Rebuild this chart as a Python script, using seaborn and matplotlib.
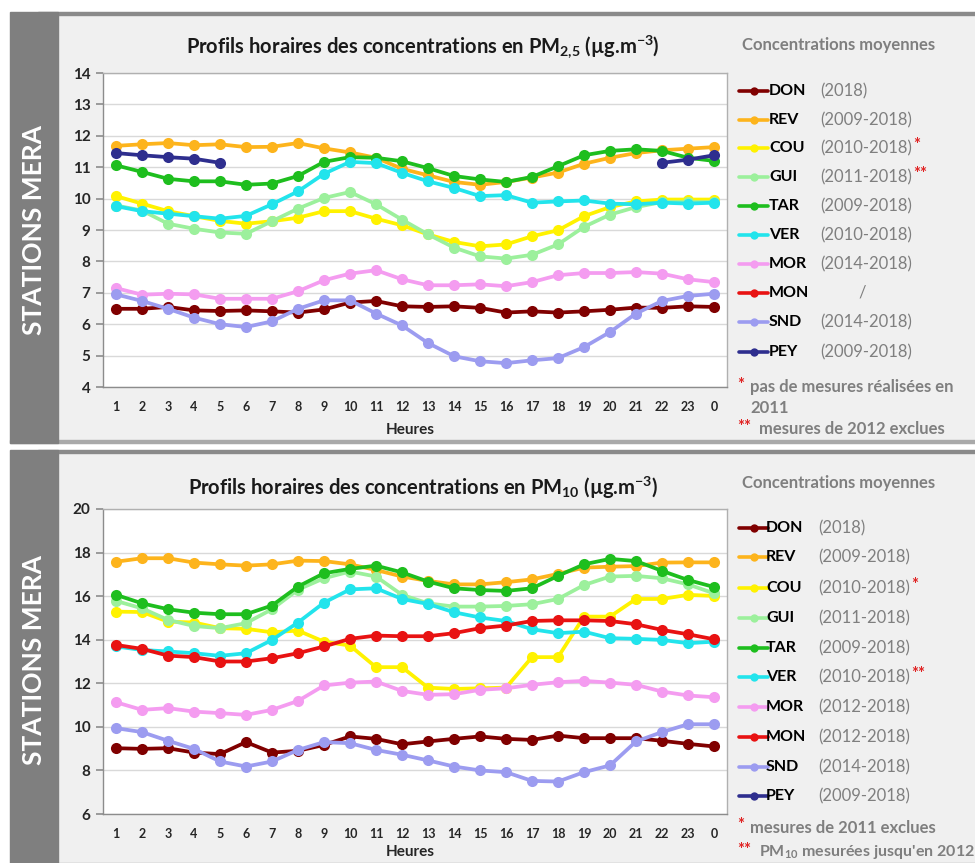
import numpy as np
import pandas as pd
import matplotlib
matplotlib.use("Agg")
import matplotlib.pyplot as plt
from matplotlib.patches import Rectangle
from matplotlib.lines import Line2D
import seaborn as sns

# ---- data -----------------------------------------------------------
hours = [str(h) for h in list(range(1, 24)) + [0]]
stations = ["DON", "REV", "COU", "GUI", "TAR", "VER", "MOR", "MON", "SND", "PEY"]
colors = {"DON": "#800000", "REV": "#FDB41C", "COU": "#FFF200", "GUI": "#9CF09C",
          "TAR": "#1EBE1E", "VER": "#22E4EC", "MOR": "#F49CF0", "MON": "#E81212",
          "SND": "#9C9CF0", "PEY": "#2E2E8E"}
nan = np.nan

# PM2.5 (ug/m3)
pm25_don = [6.49, 6.49, 6.55, 6.44, 6.42, 6.44, 6.41, 6.37, 6.47, 6.69, 6.74, 6.57,
            6.55, 6.57, 6.52, 6.37, 6.41, 6.37, 6.41, 6.46, 6.53, 6.52, 6.57, 6.55]
pm25_rev = [11.68, 11.73, 11.77, 11.70, 11.73, 11.64, 11.65, 11.77, 11.60, 11.47, 11.30, 10.95,
            10.74, 10.53, 10.44, 10.53, 10.67, 10.83, 11.11, 11.30, 11.45, 11.54, 11.59, 11.64]
pm25_cou = [10.08, 9.84, 9.60, 9.44, 9.29, 9.20, 9.28, 9.39, 9.60, 9.60, 9.36, 9.15,
            8.86, 8.62, 8.48, 8.54, 8.80, 8.99, 9.44, 9.73, 9.91, 9.97, 9.97, 9.97]
pm25_gui = [9.78, 9.62, 9.20, 9.04, 8.92, 8.88, 9.28, 9.68, 10.02, 10.21, 9.82, 9.33,
            8.86, 8.44, 8.16, 8.09, 8.21, 8.54, 9.10, 9.49, 9.73, 9.89, 9.89, 9.89]
pm25_tar = [11.06, 10.85, 10.63, 10.55, 10.55, 10.44, 10.48, 10.72, 11.17, 11.32, 11.30, 11.19,
            10.97, 10.72, 10.61, 10.53, 10.69, 11.03, 11.38, 11.52, 11.57, 11.52, 11.30, 11.20]
pm25_ver = [9.76, 9.60, 9.52, 9.44, 9.36, 9.45, 9.82, 10.23, 10.79, 11.17, 11.13, 10.82,
            10.55, 10.34, 10.08, 10.11, 9.87, 9.91, 9.94, 9.84, 9.82, 9.87, 9.84, 9.87]
pm25_mor = [7.15, 6.94, 6.97, 6.95, 6.81, 6.81, 6.81, 7.05, 7.40, 7.61, 7.72, 7.43,
            7.24, 7.24, 7.27, 7.21, 7.34, 7.56, 7.63, 7.63, 7.66, 7.61, 7.43, 7.34]
pm25_mon = [nan] * 24
pm25_snd = [6.95, 6.74, 6.49, 6.21, 6.00, 5.91, 6.09, 6.49, 6.76, 6.76, 6.34, 5.96,
            5.40, 4.98, 4.82, 4.76, 4.85, 4.92, 5.27, 5.75, 6.34, 6.74, 6.90, 6.97]
pm25_pey = [11.45, 11.38, 11.32, 11.27, 11.14, nan, nan, nan, nan, nan, nan, nan,
            nan, nan, nan, nan, nan, nan, nan, nan, nan, 11.14, 11.24, 11.38]

# PM10 (ug/m3)
pm10_don = [9.02, 8.99, 9.02, 8.82, 8.75, 9.30, 8.82, 8.90, 9.17, 9.56, 9.45, 9.20,
            9.33, 9.45, 9.56, 9.45, 9.40, 9.60, 9.48, 9.48, 9.48, 9.36, 9.22, 9.10]
pm10_rev = [17.58, 17.74, 17.74, 17.54, 17.46, 17.40, 17.46, 17.63, 17.61, 17.46, 17.20, 16.90,
            16.70, 16.54, 16.54, 16.64, 16.77, 17.02, 17.31, 17.35, 17.38, 17.54, 17.55, 17.55]
pm10_cou = [15.29, 15.27, 14.83, 14.79, 14.53, 14.50, 14.34, 14.42, 13.91, 13.73, 12.74, 12.74,
            11.80, 11.74, 11.77, 11.80, 13.20, 13.20, 15.06, 15.06, 15.87, 15.87, 16.06, 16.01]
pm10_gui = [15.78, 15.44, 14.91, 14.63, 14.53, 14.76, 15.40, 16.30, 16.82, 17.13, 16.90, 16.06,
            15.67, 15.52, 15.52, 15.55, 15.63, 15.87, 16.51, 16.90, 16.93, 16.82, 16.54, 16.13]
pm10_tar = [16.06, 15.67, 15.40, 15.24, 15.17, 15.17, 15.57, 16.44, 17.05, 17.25, 17.40, 17.09,
            16.67, 16.36, 16.28, 16.24, 16.36, 16.93, 17.46, 17.71, 17.61, 17.16, 16.74, 16.42]
pm10_ver = [13.69, 13.53, 13.46, 13.38, 13.26, 13.38, 13.99, 14.79, 15.70, 16.31, 16.36, 15.87,
            15.64, 15.26, 15.02, 14.86, 14.48, 14.30, 14.37, 14.07, 14.04, 13.99, 13.84, 13.91]
pm10_mor = [11.13, 10.78, 10.86, 10.70, 10.63, 10.55, 10.78, 11.19, 11.90, 12.03, 12.08, 11.65,
            11.47, 11.50, 11.70, 11.77, 11.93, 12.05, 12.11, 12.03, 11.93, 11.62, 11.44, 11.36]
pm10_mon = [13.76, 13.58, 13.27, 13.20, 13.00, 13.00, 13.15, 13.38, 13.69, 14.04, 14.19, 14.16,
            14.16, 14.30, 14.53, 14.65, 14.86, 14.89, 14.89, 14.86, 14.71, 14.45, 14.25, 14.02]
pm10_snd = [9.94, 9.76, 9.36, 8.99, 8.41, 8.18, 8.41, 8.94, 9.30, 9.25, 8.94, 8.72,
            8.46, 8.18, 8.00, 7.92, 7.52, 7.49, 7.92, 8.23, 9.33, 9.76, 10.12, 10.12]
pm10_pey = [nan] * 24

periods25 = ["(2018)", "(2009-2018)", "(2010-2018)", "(2011-2018)", "(2009-2018)",
             "(2010-2018)", "(2014-2018)", "/", "(2014-2018)", "(2009-2018)"]
stars25 = ["", "", "*", "**", "", "", "", "", "", ""]
periods10 = ["(2018)", "(2009-2018)", "(2010-2018)", "(2011-2018)", "(2009-2018)",
             "(2010-2018)", "(2012-2018)", "(2012-2018)", "(2014-2018)", "(2009-2018)"]
stars10 = ["", "", "*", "", "", "**", "", "", "", ""]

pm25 = dict(zip(stations, [pm25_don, pm25_rev, pm25_cou, pm25_gui, pm25_tar,
                           pm25_ver, pm25_mor, pm25_mon, pm25_snd, pm25_pey]))
pm10 = dict(zip(stations, [pm10_don, pm10_rev, pm10_cou, pm10_gui, pm10_tar,
                           pm10_ver, pm10_mor, pm10_mon, pm10_snd, pm10_pey]))

# ---- style ----------------------------------------------------------
sns.set_theme(style="white")
plt.rcParams["font.family"] = ["Lato", "DejaVu Sans"]
plt.rcParams["mathtext.fontset"] = "custom"
plt.rcParams["mathtext.rm"] = "Lato:bold"
plt.rcParams["mathtext.it"] = "Lato:bold"
plt.rcParams["mathtext.bf"] = "Lato:bold"

W, H = 975, 863
fig = plt.figure(figsize=(W / 100, H / 100), dpi=100, facecolor="white")
GREY_TXT = "#7f7f7f"
RED_STAR = "#e02020"


def fx(x):
    return x / W


def fy(y):
    return 1 - y / H


def rect(x0, y0, x1, y1, color):
    fig.patches.append(Rectangle((fx(x0), fy(y1)), (x1 - x0) / W, (y1 - y0) / H,
                                 transform=fig.transFigure, color=color, zorder=-5))


def panel(y0, y1, text_y):
    rect(58, y0, 975, y1, "#f0f0f0")
    rect(38, y0, 975, y0 + 3, "#8a8a8a")
    rect(10, y1 - 3, 975, y1, "#a9a9a9")
    rect(10, y0, 58, y1, "#7f7f7f")
    fig.text(fx(34), fy(text_y), "STATIONS MERA", rotation=90, color="white",
             fontsize=19, fontweight="bold", ha="center", va="center")


def draw_chart(ax, data, yticks, title, title_y, xlabel_off):
    pos = np.arange(len(hours))
    for st in stations:
        vals = pd.Series(data[st], dtype=float)
        seg = vals.isna().cumsum()
        df = pd.DataFrame({"pos": pos, "value": vals, "seg": seg}).dropna()
        for _, part in df.groupby("seg"):
            sns.lineplot(data=part, x="pos", y="value", ax=ax, color=colors[st],
                         marker="o", markersize=8, markeredgewidth=0, linewidth=2.7,
                         estimator=None, sort=False, legend=False)
    ax.set_facecolor("white")
    ax.set_xlim(-0.5, len(hours) - 0.5)
    ax.set_ylim(yticks[0], yticks[-1])
    ax.set_yticks(yticks)
    ax.set_yticklabels([str(t) for t in yticks], fontsize=11, fontweight="bold")
    ax.set_xticks(pos)
    ax.set_xticklabels(hours, fontsize=9, fontweight="bold")
    ax.set_xticks(np.arange(-0.5, len(hours)), minor=True)
    ax.tick_params(axis="x", which="major", length=0, pad=10)
    ax.tick_params(axis="x", which="minor", length=4, color="#909090", direction="out")
    ax.tick_params(axis="y", length=5, color="#909090", direction="out", pad=4, left=True)
    ax.yaxis.grid(True, color="#d9d9d9", linewidth=1)
    ax.set_axisbelow(True)
    for side in ["top", "right"]:
        ax.spines[side].set_color("#b0b0b0")
    for side in ["left", "bottom"]:
        ax.spines[side].set_color("#8c8c8c")
    for sp in ax.spines.values():
        sp.set_linewidth(1)
    ax.set_xlabel("Heures", fontsize=11, fontweight="bold")
    ax.xaxis.label.set_va("center")
    ax.xaxis.set_label_coords(0.492, -xlabel_off)
    ax.set_ylabel("")
    fig.text(fx(423), fy(title_y), title, fontsize=14.5, fontweight="bold",
             ha="center", va="center", color="#1a1a1a")


def legend(ys, header_y, periods, stars, label_x, period_x):
    fig.text(fx(742), fy(header_y), "Concentrations moyennes", fontsize=12,
             fontweight="bold", color=GREY_TXT, ha="left", va="center")
    for st, y, per, star in zip(stations, ys, periods, stars):
        fig.add_artist(Line2D([fx(739), fx(768)], [fy(y), fy(y)], color=colors[st],
                              linewidth=2.6, transform=fig.transFigure))
        fig.add_artist(Line2D([fx(754)], [fy(y)], color=colors[st], marker="o",
                              markersize=6, markeredgewidth=0, transform=fig.transFigure))
        fig.text(fx(label_x), fy(y), st, fontsize=11.5, fontweight="bold",
                 color="black", ha="left", va="center")
        if per == "/":
            fig.text(fx(862), fy(y), per, fontsize=12, color=GREY_TXT, ha="center", va="center")
        else:
            t = fig.text(fx(period_x), fy(y), per, fontsize=12, color=GREY_TXT,
                         ha="left", va="center")
            if star:
                fig.canvas.draw()
                bb = t.get_window_extent()
                fig.text(bb.x1 / W + 0.001, fy(y) + 0.003, star, fontsize=12,
                         fontweight="bold", color=RED_STAR, ha="left", va="center")


# ---- panels -----------------------------------------------------------
panel(12, 443, 230)
panel(450, 866, 660)

ax_top = fig.add_axes([fx(103), fy(387), 624 / W, 314 / H])
draw_chart(ax_top, pm25, list(range(4, 15)),
           r"Profils horaires des concentrations en PM$_{\mathrm{2{,}5}}$ (µg.m$^{\mathrm{-3}}$)",
           47, (430 - 387) / 314)

ax_bot = fig.add_axes([fx(103), fy(814), 624 / W, 305 / H])
draw_chart(ax_bot, pm10, list(range(6, 21, 2)),
           r"Profils horaires des concentrations en PM$_{\mathrm{10}}$ (µg.m$^{\mathrm{-3}}$)",
           488, (852 - 814) / 305)

legend([91, 120, 148, 177, 206, 235, 264, 293, 322, 352], 45, periods25, stars25, 769, 820)
legend([528, 557, 588, 618, 648, 677, 707, 737, 767, 796], 483, periods10, stars10, 766, 818)

# footnotes
foot = dict(fontsize=12, fontweight="bold", color=GREY_TXT, va="center", ha="left")
star = dict(fontsize=12, fontweight="bold", color=RED_STAR, va="center", ha="left")
fig.text(fx(737), fy(385), "*", **star)
fig.text(fx(750), fy(387), "pas de mesures réalisées en", **foot)
fig.text(fx(750), fy(408), "2011", **foot)
fig.text(fx(737), fy(427), "**", **star)
fig.text(fx(759), fy(429), "mesures de 2012 exclues", **foot)

fig.text(fx(737), fy(825), "*", **star)
fig.text(fx(750), fy(828), "mesures de 2011 exclues", **foot)
fig.text(fx(737), fy(850), "**", **star)
fig.text(fx(759), fy(852), r"PM$_{\mathrm{10}}$ mesurées jusqu'en 2012",
         **dict(foot, fontsize=11.5))

fig.savefig("out.png", dpi=100, facecolor="white")
print("Saved: out.png")
